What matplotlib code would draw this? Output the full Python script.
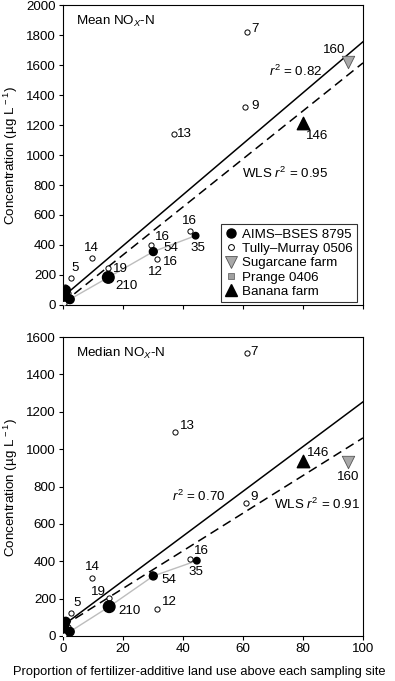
import numpy as np
import matplotlib
matplotlib.use("Agg")
import matplotlib.pyplot as plt
from matplotlib.lines import Line2D

FS = 9.6
plt.rcParams['font.family'] = ['Liberation Sans', 'DejaVu Sans']
plt.rcParams['mathtext.fontset'] = 'custom'
plt.rcParams['mathtext.rm'] = 'Liberation Sans'
plt.rcParams['mathtext.it'] = 'Liberation Sans:italic'
plt.rcParams['font.size'] = FS

# ---------------- data ----------------
# AIMS-BSES 8795 (filled circles)
mean_aims_x = [0.3, 0.8, 1.0, 2.3, 15.1, 30.1, 44.2]
mean_aims_y = [55, 75, 100, 38, 184, 356, 462]
med_aims_x = [0.1, 0.5, 0.9, 2.3, 15.4, 30.1, 44.6]
med_aims_y = [41, 60, 77, 23, 157, 321, 403]
aims_area = [38, 38, 38, 38, 70, 32, 22]

# Tully-Murray 0506 (open circles)
mean_tm_x = [0.5, 0.3, 1.5, 2.7, 9.6, 15.1, 29.2, 31.2, 37.0, 42.3, 60.7, 61.2]
mean_tm_y = [122, 11, 80, 182, 311, 244, 400, 304, 1138, 495, 1318, 1818]
med_tm_x = [0.5, 0.3, 1.5, 2.7, 9.8, 15.4, 29.5, 31.4, 37.3, 42.3, 61.0, 61.2]
med_tm_y = [70, 5, 50, 121, 308, 201, 330, 143, 1093, 410, 713, 1512]

# Sugarcane farm, Banana farm, Prange 0406
sugar_x = [95.1]
mean_sugar_y = [1622]
med_sugar_y = [932]
banana_x = [80.1]
mean_banana_y = [1211]
med_banana_y = [938]
prange_x = [0.6]
mean_prange_y = [60]
med_prange_y = [45]

# regression lines (intercept, slope)
mean_ols = (55, 17.0)
mean_wls = (14, 16.0)
med_ols = (56, 11.97)
med_wls = (53, 10.07)
mean_r2 = ["$r^2$ = 0.82", "WLS $r^2$ = 0.95"]
med_r2 = ["$r^2$ = 0.70", "WLS $r^2$ = 0.91"]

# point labels (sample sizes)
mean_labels = ["13", "14", "5", "19", "210", "16", "54", "16", "12", "16", "35", "7", "9", "160", "146"]
mean_lab_pos = [(38.1, 1138, 'left'), (9.3, 378, 'center'), (3.9, 244, 'center'),
                (16.8, 238, 'left'), (17.3, 127, 'left'), (33.1, 451, 'center'),
                (33.4, 378, 'left'), (33.4, 289, 'left'), (30.7, 222, 'center'),
                (42.3, 562, 'center'), (45.1, 378, 'center'), (62.7, 1840, 'left'),
                (62.7, 1327, 'left'), (90.4, 1700, 'center'), (84.6, 1127, 'center')]
med_labels = ["13", "14", "5", "19", "210", "54", "12", "16", "35", "7", "9", "146", "160"]
med_lab_pos = [(39.0, 1124, 'left'), (9.8, 367, 'center'), (4.6, 175, 'center'),
               (11.8, 237, 'center'), (18.4, 135, 'left'), (32.9, 300, 'left'),
               (32.9, 184, 'left'), (43.6, 455, 'left'), (44.3, 340, 'center'),
               (62.3, 1520, 'left'), (62.3, 745, 'left'), (81.4, 977, 'left'),
               (95.1, 852, 'center')]

xticks = [0, 20, 40, 60, 80, 100]
mean_yticks = list(range(0, 2001, 200))
med_yticks = list(range(0, 1601, 200))

# ---------------- figure ----------------
fig = plt.figure(figsize=(3.95, 6.81), dpi=100)
L, R = 63 / 395, 363 / 395
ax1 = fig.add_axes([L, 1 - 305 / 681, R - L, 300 / 681])
ax2 = fig.add_axes([L, 1 - 636 / 681, R - L, 299 / 681])


def panel(ax, aims_x, aims_y, tm_x, tm_y, sugar_y, banana_y, prange_y,
          ols, wls, r2, r2pos, labels, lab_pos, yticks, title, show_xlabels):
    xs = np.array([0, 100])
    order = np.argsort(aims_x)
    ax.plot(np.array(aims_x)[order], np.array(aims_y)[order], color='#bdbdbd', lw=1, zorder=1)
    ax.plot(xs, ols[0] + ols[1] * xs, color='black', lw=1.1, zorder=2)
    ax.plot(xs, wls[0] + wls[1] * xs, color='black', lw=1.1, ls=(0, (6, 3.5)), zorder=2)
    ax.scatter(prange_x, prange_y, marker='s', s=16, color='#a0a0a0', edgecolor='#555555', lw=0.5, zorder=3)
    ax.scatter(tm_x, tm_y, marker='o', s=14, facecolor='white', edgecolor='black', lw=0.7, zorder=4)
    ax.scatter(aims_x, aims_y, marker='o', s=aims_area, color='black', zorder=5)
    ax.scatter(sugar_x, sugar_y, marker='v', s=80, facecolor='#a8a8a8', edgecolor='#555555', lw=0.6, zorder=5)
    ax.scatter(banana_x, banana_y, marker='^', s=80, color='black', zorder=5)
    for t, (x, y, ha) in zip(labels, lab_pos):
        ax.text(x, y, t, ha=ha, va='center', fontsize=FS, zorder=6)
    for t, (x, y, ha) in zip(r2, r2pos):
        ax.text(x, y, t, ha=ha, va='center', fontsize=FS, zorder=6)
    ax.text(4.5, yticks[-1] * 0.945, title, ha='left', va='center', fontsize=FS)
    ax.set_xlim(0, 100)
    ax.set_ylim(0, yticks[-1])
    ax.set_xticks(xticks)
    ax.set_yticks(yticks)
    ax.tick_params(direction='out', length=3, width=0.8, labelsize=FS, pad=2)
    if not show_xlabels:
        ax.set_xticklabels([])
    for s in ax.spines.values():
        s.set_linewidth(0.8)


panel(ax1, mean_aims_x, mean_aims_y, mean_tm_x, mean_tm_y, mean_sugar_y, mean_banana_y,
      mean_prange_y, mean_ols, mean_wls, mean_r2, [(68.7, 1555, 'left'), (59.6, 878, 'left')],
      mean_labels, mean_lab_pos, mean_yticks, 'Mean NO$_X$-N', False)
panel(ax2, med_aims_x, med_aims_y, med_tm_x, med_tm_y, med_sugar_y, med_banana_y,
      med_prange_y, med_ols, med_wls, med_r2, [(45.2, 745, 'center'), (84.8, 706, 'center')],
      med_labels, med_lab_pos, med_yticks, 'Median NO$_X$-N', True)

ylab = 'Concentration (µg L$^{\\,-1}$)'
fig.text(11 / 395, 1 - 155 / 681, ylab, rotation=90, ha='center', va='center', fontsize=FS)
fig.text(11 / 395, 1 - 487 / 681, ylab, rotation=90, ha='center', va='center', fontsize=FS)

handles = [
    Line2D([], [], marker='o', ls='', color='black', markersize=6.5),
    Line2D([], [], marker='o', ls='', markerfacecolor='white', markeredgecolor='black', markersize=4.2, mew=0.7),
    Line2D([], [], marker='v', ls='', markerfacecolor='#a8a8a8', markeredgecolor='#555555', markersize=9, mew=0.6),
    Line2D([], [], marker='s', ls='', markerfacecolor='#a0a0a0', markeredgecolor='#555555', markersize=4.5, mew=0.5),
    Line2D([], [], marker='^', ls='', color='black', markersize=9),
]
names = ['AIMS–BSES 8795', 'Tully–Murray 0506', 'Sugarcane farm', 'Prange 0406', 'Banana farm']
leg = ax1.legend(handles, names, loc='lower right', bbox_to_anchor=(0.98, 0.01), borderaxespad=0,
                 fontsize=FS, frameon=True, fancybox=False, handlelength=0.9, handletextpad=0.4,
                 labelspacing=0.15, borderpad=0.3)
leg.get_frame().set_edgecolor('black')
leg.get_frame().set_linewidth(0.8)

fig.text(199 / 395, 1 - 672 / 681, 'Proportion of fertilizer-additive land use above each sampling site',
         ha='center', va='center', fontsize=9.3)

fig.savefig('out.png', dpi=100)
